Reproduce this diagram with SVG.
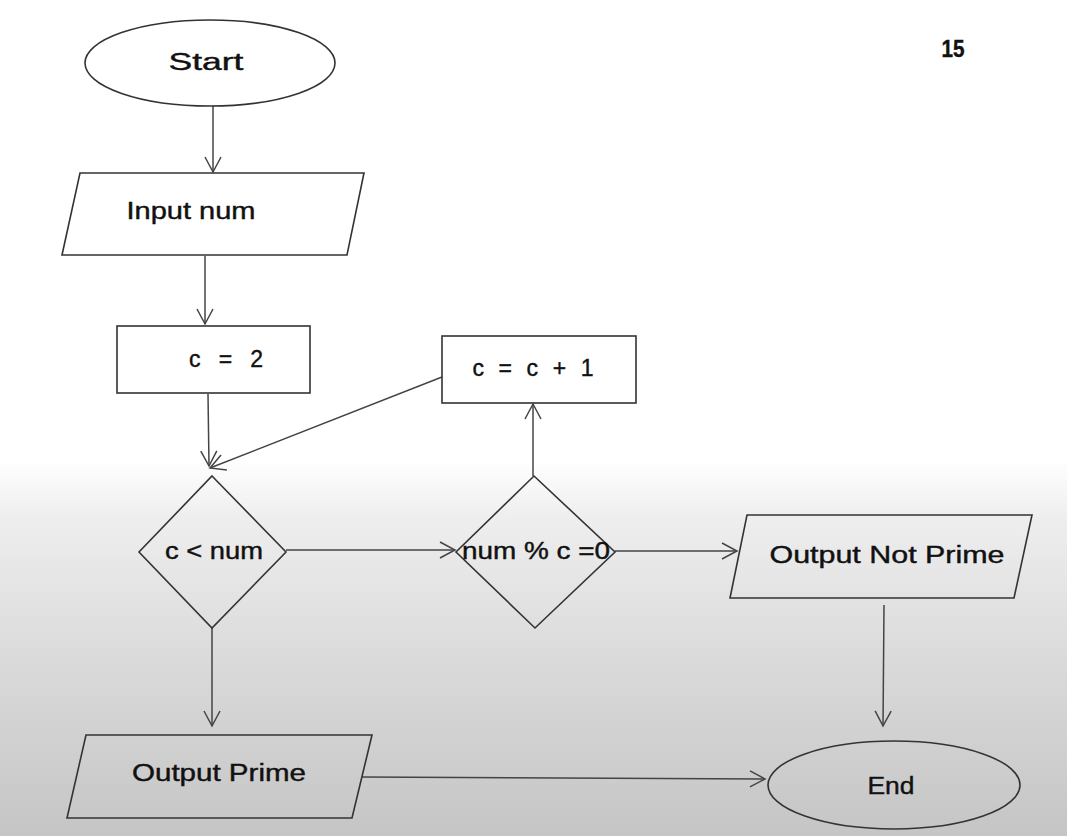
<svg xmlns="http://www.w3.org/2000/svg" width="1067" height="836" viewBox="0 0 1067 836">
<defs>
<linearGradient id="bg" x1="0" y1="0" x2="0" y2="836" gradientUnits="userSpaceOnUse">
<stop offset="0" stop-color="#ffffff"/>
<stop offset="0.55" stop-color="#ffffff"/>
<stop offset="0.62" stop-color="#eeeeee"/>
<stop offset="0.8" stop-color="#d9d9d9"/>
<stop offset="1" stop-color="#c5c5c5"/>
</linearGradient>
<marker id="ah" markerWidth="20" markerHeight="20" refX="16" refY="10" orient="auto" markerUnits="userSpaceOnUse">
<path d="M1,2 L16,10 L1,18" fill="none" stroke="#444" stroke-width="1.5"/>
</marker>
</defs>
<style>
.sh{fill:none;stroke:#333;stroke-width:1.6}
.cn{fill:none;stroke:#444;stroke-width:1.5;marker-end:url(#ah)}
.t{font-family:"Liberation Sans",Arial,sans-serif;font-size:23px;fill:#111;stroke:#111;stroke-width:0.4;text-anchor:middle;dominant-baseline:central}
</style>
<rect x="0" y="0" width="1067" height="836" fill="url(#bg)"/>
<text x="953" y="49" class="t" font-size="22" font-weight="bold" textLength="23" lengthAdjust="spacingAndGlyphs">15</text>
<g id="connectors">
<line class="cn" x1="213" y1="106" x2="213" y2="172"/>
<line class="cn" x1="205" y1="256" x2="205" y2="324"/>
<line class="cn" x1="208" y1="394" x2="209" y2="466"/>
<line class="cn" x1="442" y1="377" x2="210" y2="468"/>
<line class="cn" x1="286" y1="550" x2="455" y2="550"/>
<line class="cn" x1="533" y1="476" x2="533" y2="404"/>
<line class="cn" x1="615" y1="551" x2="737" y2="551"/>
<line class="cn" x1="884" y1="605" x2="883" y2="726"/>
<line class="cn" x1="212" y1="628" x2="212" y2="726"/>
<line class="cn" x1="362" y1="777" x2="765" y2="779"/>
</g>
<g id="start">
<ellipse class="sh" cx="210" cy="63" rx="125" ry="43"/>
<text class="t" x="206" y="62" textLength="75" lengthAdjust="spacingAndGlyphs">Start</text>
</g>
<g id="input">
<polygon class="sh" points="80,173 364,173 347,255 62,255"/>
<text class="t" x="191" y="211" textLength="129" lengthAdjust="spacingAndGlyphs">Input num</text>
</g>
<g id="init">
<rect class="sh" x="117" y="326" width="193" height="67"/>
<text class="t" x="226" y="359" textLength="74" lengthAdjust="spacing">c = 2</text>
</g>
<g id="incr">
<rect class="sh" x="442" y="336" width="194" height="67"/>
<text class="t" x="533" y="368" textLength="121" lengthAdjust="spacing">c = c + 1</text>
</g>
<g id="cond1">
<polygon class="sh" points="212,476 286,552 212,628 139,552"/>
<text class="t" x="214" y="551" textLength="98" lengthAdjust="spacingAndGlyphs">c &lt; num</text>
</g>
<g id="cond2">
<polygon class="sh" points="534,476 615,552 535,628 456,552"/>
<text class="t" x="536" y="551" textLength="148" lengthAdjust="spacingAndGlyphs">num % c =0</text>
</g>
<g id="notprime">
<polygon class="sh" points="747,515 1032,515 1014,598 730,598"/>
<text class="t" x="887" y="555" textLength="235" lengthAdjust="spacingAndGlyphs">Output Not Prime</text>
</g>
<g id="prime">
<polygon class="sh" points="86,735 372,735 352,818 67,818"/>
<text class="t" x="219" y="773" textLength="174" lengthAdjust="spacingAndGlyphs">Output Prime</text>
</g>
<g id="end">
<ellipse class="sh" cx="894" cy="785" rx="126" ry="44"/>
<text class="t" x="891" y="786" textLength="47" lengthAdjust="spacingAndGlyphs">End</text>
</g>
</svg>
